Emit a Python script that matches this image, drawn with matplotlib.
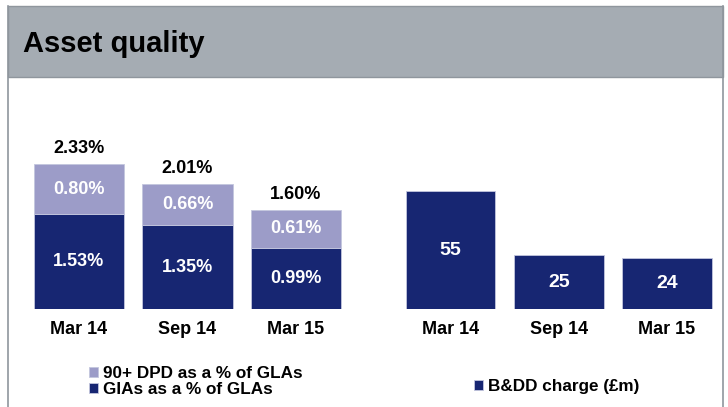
"""Asset quality slide: stacked impaired-loan ratios and B&DD charge."""

import matplotlib

matplotlib.use("Agg")

import matplotlib.pyplot as plt
from matplotlib.patches import Rectangle

# data
periods = ["Mar 14", "Sep 14", "Mar 15"]
gia_pct = [1.53, 1.35, 0.99]        # GIAs as a % of GLAs
dpd_pct = [0.80, 0.66, 0.61]        # 90+ DPD as a % of GLAs
total_pct = [2.33, 2.01, 1.60]      # shown above the stacks
bdd_charge = [55, 25, 24]           # B&DD charge (GBP m)

NAVY = "#172672"
LAVENDER = "#9C9CC8"
HEADER = "#A5ACB3"
FRAME = "#8F969D"

plt.rcParams["font.family"] = ["Liberation Sans", "DejaVu Sans"]
plt.rcParams["font.weight"] = "bold"

W, H = 728, 407
fig = plt.figure(figsize=(W / 100, H / 100), dpi=100)


def fx(px):
    return px / W


def fy(py):
    # pixel rows counted from the top of the image
    return 1 - py / H


# slide frame + grey title band
fig.patches.append(Rectangle((fx(8), fy(77)), fx(715), 71 / H, transform=fig.transFigure,
                             facecolor=HEADER, edgecolor=FRAME, linewidth=1.0, zorder=0))
fig.add_artist(plt.Line2D([fx(8), fx(8)], [0, fy(6)], color=FRAME, linewidth=1.2))
fig.add_artist(plt.Line2D([fx(723), fx(723)], [0, fy(6)], color=FRAME, linewidth=1.2))
fig.text(fx(23), fy(52), "Asset quality", fontsize=21, fontweight="bold", va="baseline",
         color="black")

bottom_px, top_px = 309, 120
ax_h = (bottom_px - top_px) / H
ax_left = fig.add_axes([fx(24.75), fy(bottom_px), fx(325.5), ax_h])
ax_right = fig.add_axes([fx(396.4), fy(bottom_px), fx(324.6), ax_h])

x = range(len(periods))
bar_kw = dict(width=0.83, edgecolor="#C3C6DE", linewidth=0.6)

gia_bars = ax_left.bar(x, gia_pct, color=NAVY, label="GIAs as a % of GLAs", **bar_kw)
dpd_bars = ax_left.bar(x, dpd_pct, bottom=gia_pct, color=LAVENDER,
                       label="90+ DPD as a % of GLAs", **bar_kw)
ax_left.bar_label(gia_bars, labels=[f"{v:.2f}%" for v in gia_pct], label_type="center",
                  color="white", fontsize=13, fontweight="bold")
ax_left.bar_label(dpd_bars, labels=[f"{v:.2f}%" for v in dpd_pct], label_type="center",
                  color="white", fontsize=13, fontweight="bold")
ax_left.bar_label(dpd_bars, labels=[f"{v:.2f}%" for v in total_pct], padding=5,
                  color="black", fontsize=13, fontweight="bold")
ax_left.set_xlim(-0.5, 2.5)
ax_left.set_ylim(0, (bottom_px - top_px) / 62.1)

bdd_bars = ax_right.bar(x, bdd_charge, color=NAVY, label="B&DD charge (£m)", **bar_kw)
ax_right.bar_label(bdd_bars, labels=[str(v) for v in bdd_charge], label_type="center",
                   color="white", fontsize=14, fontweight="bold")
ax_right.set_xlim(-0.5, 2.5)
ax_right.set_ylim(0, (bottom_px - top_px) / 2.145)

for ax in (ax_left, ax_right):
    ax.set_xticks(list(x), periods, fontsize=13, fontweight="bold")
    ax.tick_params(axis="x", length=0, pad=9)
    ax.set_yticks([])
    for side in ax.spines.values():
        side.set_visible(False)
    ax.patch.set_alpha(0)

leg_kw = dict(loc="upper left", frameon=False, borderpad=0, borderaxespad=0,
              handlelength=0.55, handleheight=0.55, handletextpad=0.25, labelspacing=0.05,
              prop={"size": 12.3, "weight": "bold"}, bbox_transform=fig.transFigure)
ax_left.legend(handles=[dpd_bars, gia_bars], bbox_to_anchor=(fx(89), fy(366)), **leg_kw)
ax_right.legend(handles=[bdd_bars], bbox_to_anchor=(fx(474), fy(379)), **leg_kw)

fig.savefig("out.png", dpi=100)
